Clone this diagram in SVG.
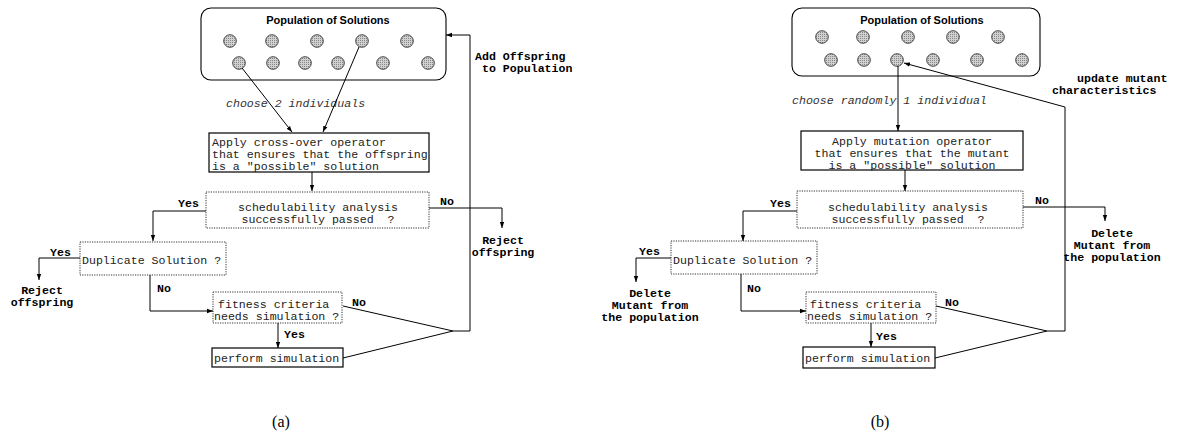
<svg xmlns="http://www.w3.org/2000/svg" width="1180" height="437" viewBox="0 0 1180 437">
<style>
.box{fill:none;stroke:#000;stroke-width:1.2}
.dot{fill:none;stroke:#333;stroke-width:1;stroke-dasharray:1.2 1.2}
.pop{fill:none;stroke:#000;stroke-width:1.1}
.ind{fill:url(#hatch);stroke:#333;stroke-width:0.9}
.ln{fill:none;stroke:#000;stroke-width:1}
.arr{fill:none;stroke:#000;stroke-width:1;marker-end:url(#ah)}
.t{font-family:'Liberation Mono','Courier New','DejaVu Sans Mono',monospace;font-size:11.6px;fill:#222}
.it{font-family:'Liberation Mono','Courier New','DejaVu Sans Mono',monospace;font-size:11.6px;font-style:italic;fill:#333}
.b{font-family:'Liberation Mono','Courier New','DejaVu Sans Mono',monospace;font-size:11.6px;font-weight:bold;fill:#000}
.title{font-family:'Liberation Sans',Arial,sans-serif;font-size:11px;font-weight:bold;fill:#000}
.cap{font-family:'Liberation Serif',serif;font-size:16px;fill:#000}
</style>
<defs>
<pattern id="hatch" width="2" height="2" patternUnits="userSpaceOnUse">
<rect width="2" height="2" fill="#d0d0d0"/>
<rect width="1" height="1" fill="#888"/>
</pattern>
<marker id="ah" markerWidth="6" markerHeight="6" refX="6" refY="3" orient="auto" markerUnits="userSpaceOnUse">
<path d="M0,0.8 L6,3 L0,5.2 Z" fill="#000"/>
</marker>
</defs>

<!-- Panel (a) -->
<g id="a-population">
<rect class="pop" x="201" y="8" width="245" height="72" rx="10"/>
<text class="title" x="328" y="24" text-anchor="middle">Population of Solutions</text>
<circle class="ind" cx="230" cy="41" r="6.3"/>
<circle class="ind" cx="272" cy="41" r="6.3"/>
<circle class="ind" cx="317" cy="41" r="6.3"/>
<circle class="ind" cx="362" cy="41" r="6.3"/>
<circle class="ind" cx="407" cy="41" r="6.3"/>
<circle class="ind" cx="239" cy="63" r="6.3"/>
<circle class="ind" cx="273" cy="63" r="6.3"/>
<circle class="ind" cx="305" cy="63" r="6.3"/>
<circle class="ind" cx="338" cy="63" r="6.3"/>
<circle class="ind" cx="383" cy="63" r="6.3"/>
<circle class="ind" cx="428" cy="63" r="6.3"/>
</g>
<g id="a-crossover">
<rect class="box" x="209" y="133" width="220" height="39"/>
<text class="t" x="212" y="146">Apply cross-over operator</text>
<text class="t" x="212" y="158">that ensures that the offspring</text>
<text class="t" x="212" y="170">is a "possible" solution</text>
</g>
<g id="a-sched">
<rect class="dot" x="206" y="192" width="223" height="36"/>
<text class="t" x="318" y="211" text-anchor="middle">schedulability analysis</text>
<text class="t" x="318" y="223" text-anchor="middle" xml:space="preserve">successfully passed  ?</text>
</g>
<g id="a-dup">
<rect class="dot" x="80" y="242" width="146" height="33"/>
<text class="t" x="82" y="264">Duplicate Solution ?</text>
</g>
<g id="a-fitness">
<rect class="dot" x="213" y="292" width="129" height="31"/>
<text class="t" x="218" y="308">fitness criteria</text>
<text class="t" x="214" y="320">needs simulation ?</text>
</g>
<g id="a-sim">
<rect class="box" x="212" y="348" width="131" height="19"/>
<text class="t" x="214" y="362">perform simulation</text>
</g>
<g id="a-labels">
<text class="it" x="226" y="107">choose 2 individuals</text>
<text class="b" x="475" y="60">Add Offspring</text>
<text class="b" x="482" y="72">to Population</text>
<text class="b" x="440" y="205">No</text>
<text class="b" x="503" y="244" text-anchor="middle">Reject</text>
<text class="b" x="503" y="256" text-anchor="middle">offspring</text>
<text class="b" x="178" y="207">Yes</text>
<text class="b" x="50" y="256">Yes</text>
<text class="b" x="42" y="294" text-anchor="middle">Reject</text>
<text class="b" x="42" y="306" text-anchor="middle">offspring</text>
<text class="b" x="157" y="292">No</text>
<text class="b" x="352" y="306">No</text>
<text class="b" x="284" y="338">Yes</text>
<text class="cap" x="281" y="427" text-anchor="middle">(a)</text>
</g>
<g id="a-connectors">
<line class="arr" x1="242" y1="68" x2="292" y2="132"/>
<line class="arr" x1="359" y1="47" x2="323" y2="132"/>
<line class="arr" x1="312" y1="172" x2="312" y2="191"/>
<polyline class="arr" points="429,208 502,208 502,228"/>
<polyline class="arr" points="206,211 153,211 153,241"/>
<polyline class="arr" points="80,258 39,258 39,280"/>
<polyline class="arr" points="150,275 150,311 213,311"/>
<line class="arr" x1="278" y1="323" x2="278" y2="348"/>
<polyline class="ln" points="343,306 453,331 343,358"/>
<polyline class="arr" points="453,331 470,331 470,35 446,35"/>
</g>

<!-- Panel (b) -->
<g id="b-population">
<rect class="pop" x="792" y="8" width="248" height="68" rx="10"/>
<text class="title" x="922" y="24" text-anchor="middle">Population of Solutions</text>
<circle class="ind" cx="822" cy="37" r="6.3"/>
<circle class="ind" cx="863" cy="37" r="6.3"/>
<circle class="ind" cx="908" cy="37" r="6.3"/>
<circle class="ind" cx="953" cy="37" r="6.3"/>
<circle class="ind" cx="998" cy="37" r="6.3"/>
<circle class="ind" cx="831" cy="60" r="6.3"/>
<circle class="ind" cx="864" cy="60" r="6.3"/>
<circle class="ind" cx="897" cy="60" r="6.3"/>
<circle class="ind" cx="933" cy="60" r="6.3"/>
<circle class="ind" cx="977" cy="60" r="6.3"/>
<circle class="ind" cx="1022" cy="60" r="6.3"/>
</g>
<g id="b-mutation">
<rect class="box" x="801" y="131" width="222" height="39"/>
<text class="t" x="912" y="145" text-anchor="middle">Apply mutation operator</text>
<text class="t" x="912" y="157" text-anchor="middle">that ensures that the mutant</text>
<text class="t" x="912" y="169" text-anchor="middle">is a "possible" solution</text>
</g>
<g id="b-sched">
<rect class="dot" x="797" y="191" width="226" height="37"/>
<text class="t" x="908" y="211" text-anchor="middle">schedulability analysis</text>
<text class="t" x="908" y="223" text-anchor="middle" xml:space="preserve">successfully passed  ?</text>
</g>
<g id="b-dup">
<rect class="dot" x="671" y="241" width="146" height="33"/>
<text class="t" x="673" y="264">Duplicate Solution ?</text>
</g>
<g id="b-fitness">
<rect class="dot" x="806" y="292" width="130" height="31"/>
<text class="t" x="810" y="308">fitness criteria</text>
<text class="t" x="807" y="320">needs simulation ?</text>
</g>
<g id="b-sim">
<rect class="box" x="803" y="347" width="132" height="21"/>
<text class="t" x="805" y="362">perform simulation</text>
</g>
<g id="b-labels">
<text class="it" x="792" y="104">choose randomly 1 individual</text>
<text class="b" x="1077" y="82">update mutant</text>
<text class="b" x="1052" y="94">characteristics</text>
<text class="b" x="1035" y="204">No</text>
<text class="b" x="1112" y="237" text-anchor="middle">Delete</text>
<text class="b" x="1112" y="249" text-anchor="middle">Mutant from</text>
<text class="b" x="1112" y="261" text-anchor="middle">the population</text>
<text class="b" x="770" y="207">Yes</text>
<text class="b" x="639" y="255">Yes</text>
<text class="b" x="650" y="297" text-anchor="middle">Delete</text>
<text class="b" x="650" y="309" text-anchor="middle">Mutant from</text>
<text class="b" x="650" y="321" text-anchor="middle">the population</text>
<text class="b" x="747" y="292">No</text>
<text class="b" x="945" y="306">No</text>
<text class="b" x="876" y="340">Yes</text>
<text class="cap" x="880" y="427" text-anchor="middle">(b)</text>
</g>
<g id="b-connectors">
<line class="arr" x1="898" y1="66" x2="898" y2="131"/>
<line class="arr" x1="905" y1="170" x2="905" y2="191"/>
<polyline class="arr" points="1023,207 1105,207 1105,221"/>
<polyline class="arr" points="797,211 743,211 743,241"/>
<polyline class="arr" points="671,258 636,258 636,282"/>
<polyline class="arr" points="741,274 741,311 806,311"/>
<line class="arr" x1="871" y1="323" x2="871" y2="347"/>
<polyline class="ln" points="936,306 1047,331 935,358"/>
<polyline class="arr" points="1047,331 1065,331 1065,107 904,63"/>
</g>
</svg>
